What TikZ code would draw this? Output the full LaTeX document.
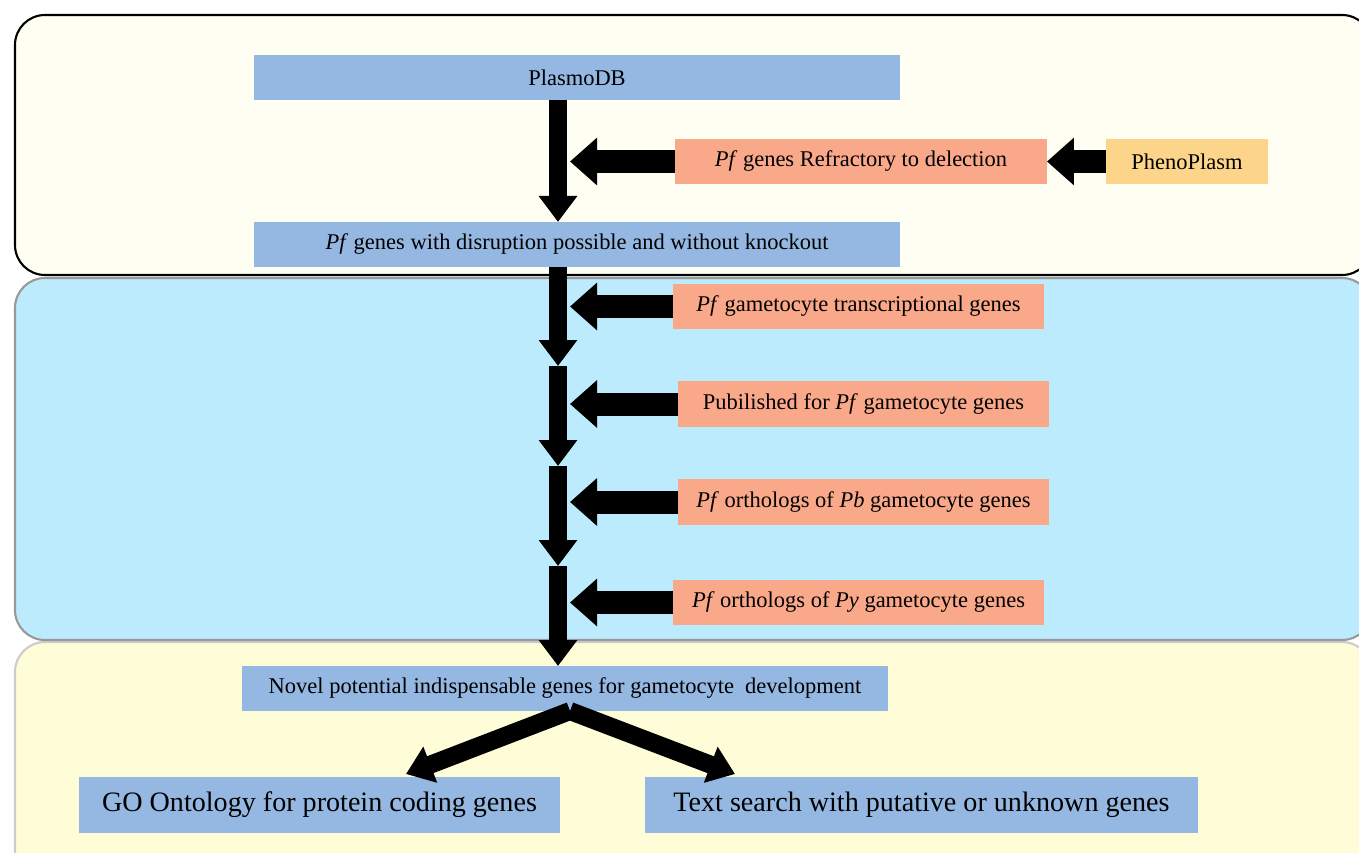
\documentclass[tikz,border=0pt]{standalone}
\usepackage{fontspec}
\setmainfont{Liberation Serif}
\usetikzlibrary{positioning,arrows.meta}

\definecolor{panelcream}{HTML}{FEFEF2}
\definecolor{panelcyan}{HTML}{BBEBFD}
\definecolor{panelyellow}{HTML}{FEFDD8}
\definecolor{boxblue}{HTML}{95B8E2}
\definecolor{boxsalmon}{HTML}{FAA88A}
\definecolor{boxgold}{HTML}{FDD58A}

\begin{document}
\begin{tikzpicture}[x=0.02cm,y=-0.02cm,
		every node/.style={inner sep=0pt,outer sep=0pt,font=\fontsize{12.8}{15}\selectfont},
		bluebox/.style={fill=boxblue,minimum width=12.92cm,minimum height=0.9cm},
		salmonbox/.style={fill=boxsalmon,minimum width=7.42cm,minimum height=0.9cm},
		goldbox/.style={fill=boxgold,minimum width=3.24cm,minimum height=0.9cm},
		bigbox/.style={fill=boxblue,minimum height=1.12cm,font=\fontsize{16}{19}\selectfont},
		panel/.style={rounded corners=0.6cm,line width=1.2pt},
		downflow/.style={line width=0.36cm,-{Triangle[width=0.74cm,length=0.52cm]}},
		sideflow/.style={line width=0.46cm,-{Triangle[width=0.92cm,length=0.54cm]}}]
	\clip (0,0) rectangle (1359,852);
	\fill[white] (0,0) rectangle (1359,852);
	% three panels
	\draw[panel,fill=panelyellow,draw=black!20] (15,642) rectangle (1372,880);
	\draw[panel,fill=panelcyan,draw=black!40] (15,278) rectangle (1372,640);
	\draw[panel,fill=panelcream,draw=black] (15,15) rectangle (1372,275);
	
	\node[bluebox]   (plasmo)  at (577,77.5)       {PlasmoDB};
	\node[bluebox]   (disrupt) [below=2.44cm of plasmo] {\textit{Pf} genes with disruption possible and without knockout};
	\node[salmonbox,minimum width=7.44cm] (refr) at (861,161.5) {\textit{Pf} genes Refractory to delection};
	\node[goldbox]   (pheno)   [right=1.18cm of refr] {PhenoPlasm};
	\node[salmonbox] (trans)   at (858.5,306.5)    {\textit{Pf} gametocyte transcriptional genes};
	\node[salmonbox,minimum height=0.92cm] (publ)  at (863.5,404) {Pubilished for \textit{Pf} gametocyte genes};
	\node[salmonbox,minimum height=0.92cm] (orthb) at (863.5,502) {\textit{Pf} orthologs of \textit{Pb} gametocyte genes};
	\node[salmonbox] (orthy)   at (858.5,602.5)    {\textit{Pf} orthologs of \textit{Py} gametocyte genes};
	\node[bluebox]   (novel)   at (565,688.5)      {Novel potential indispensable genes for gametocyte\ \ development};
	\node[bigbox,minimum width=9.62cm]  (goont) at (319.5,805) {GO Ontology for protein coding genes};
	\node[bigbox,minimum width=11.06cm] (txt)   at (921.5,805) {Text search with putative or unknown genes};
	
	\coordinate (spine)  at (558,0);
	\coordinate (spineR) at (570,0);
	\coordinate (j1) at (558,366);
	\coordinate (j2) at (558,466);
	\coordinate (j3) at (558,566);
	\coordinate (goin) at (406,774);
	\coordinate (txin) at (735,774);
	
	\draw[downflow] (plasmo.south -| spine) -- (disrupt.north -| spine);
	\draw[downflow] (disrupt.south -| spine) -- (j1);
	\draw[downflow] (j1) -- (j2);
	\draw[downflow] (j2) -- (j3);
	\draw[downflow] (j3) -- (novel.north -| spine);
	
	\draw[sideflow] (pheno.west) -- (refr.east);
	\draw[sideflow] (refr.west) -- (refr.west -| spineR);
	\draw[sideflow] (trans.west) -- (trans.west -| spineR);
	\draw[sideflow] (publ.west) -- (publ.west -| spineR);
	\draw[sideflow] (orthb.west) -- (orthb.west -| spineR);
	\draw[sideflow] (orthy.west) -- (orthy.west -| spineR);
	
	\draw[downflow] ([xshift=0.1cm]novel.south) -- (goin);
	\draw[downflow] ([xshift=0.1cm]novel.south) -- (txin);
\end{tikzpicture}
\end{document}
